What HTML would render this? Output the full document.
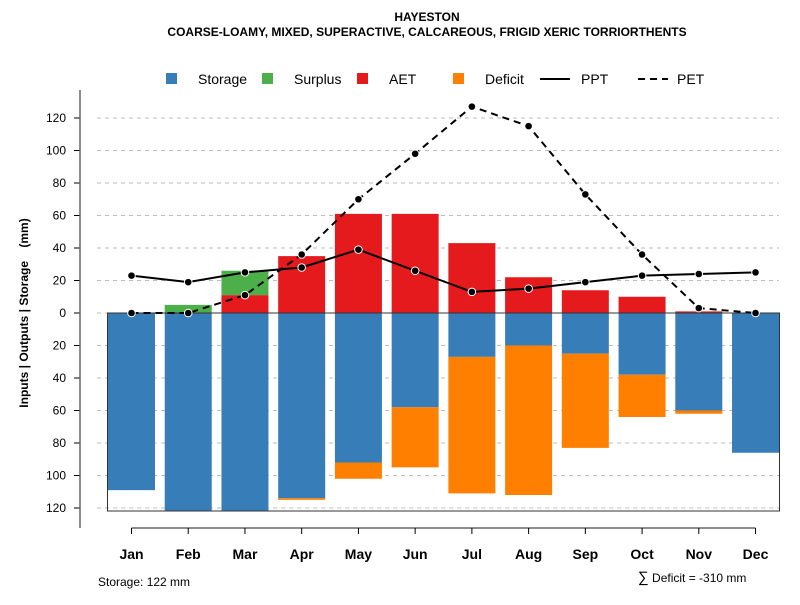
<!DOCTYPE html>
<html><head><meta charset="utf-8"><style>
body{margin:0;background:#fff;font-family:"Liberation Sans",sans-serif}
</style></head><body>
<svg width="800" height="600" xmlns="http://www.w3.org/2000/svg" font-family="Liberation Sans, sans-serif">
<text x="427" y="21" text-anchor="middle" font-size="12" font-weight="bold">HAYESTON</text>
<text x="427" y="36" text-anchor="middle" font-size="12" font-weight="bold">COARSE-LOAMY, MIXED, SUPERACTIVE, CALCAREOUS, FRIGID XERIC TORRIORTHENTS</text>
<g id="grid"></g>
<g id="bars"></g>
<rect x="107.5" y="313" width="672" height="198" fill="none" stroke="#333" stroke-width="1"/>
<g id="lines"></g>
<g id="axes"></g>
<g font-size="14">
<rect x="166" y="73" width="11" height="11" fill="#377EB8"/><text x="198" y="84">Storage</text>
<rect x="262" y="73" width="11" height="11" fill="#4DAF4A"/><text x="294" y="84">Surplus</text>
<rect x="357" y="73" width="11" height="11" fill="#E41A1C"/><text x="389" y="84">AET</text>
<rect x="453" y="73" width="11" height="11" fill="#FF7F00"/><text x="485" y="84">Deficit</text>
<line x1="540" y1="79" x2="570" y2="79" stroke="#000" stroke-width="2"/><text x="581" y="84">PPT</text>
<line x1="638" y1="79" x2="668" y2="79" stroke="#000" stroke-width="2" stroke-dasharray="7,5"/><text x="677" y="84">PET</text>
</g>
<text x="98" y="586" font-size="12">Storage: 122 mm</text>
<text x="638" y="582" font-size="12"><tspan font-size="15">∑</tspan> Deficit = -310 mm</text>
<text transform="translate(28,313) rotate(-90)" text-anchor="middle" font-size="12" font-weight="bold" style="white-space:pre">Inputs | Outputs | Storage    (mm)</text>
</svg>
<script>
const months=["Jan","Feb","Mar","Apr","May","Jun","Jul","Aug","Sep","Oct","Nov","Dec"];
const storage=[109,122,122,114,92,58,27,20,25,38,60,86];
const deficit=[0,0,0,1,10,37,84,92,58,26,2,0];
const aet=[0,0,11,35,61,61,43,22,14,10,1,0];
const surplus=[0,5,15,0,0,0,0,0,0,0,0,0];
const ppt=[23,19,25,28,39,26,13,15,19,23,24,25];
const pet=[0,0,11,36,70,98,127,115,73,36,3,0];
const yTicks=[0,20,40,60,80,100,120];
const NS="http://www.w3.org/2000/svg";
const y0=313,k=1.625;
const yUp=v=>y0-v*k, yDn=v=>y0+v*k;
const xc=i=>131.5+i*56.73, bw=47;
function mk(t,a,p){const e=document.createElementNS(NS,t);for(const n in a)e.setAttribute(n,a[n]);p.appendChild(e);return e;}
const grid=document.getElementById('grid'),bars=document.getElementById('bars'),lines=document.getElementById('lines'),axes=document.getElementById('axes');
yTicks.forEach(t=>{[yUp(t),yDn(t)].forEach((y,j)=>{if(t===0&&j===1)return;
const g=mk('line',{x1:97,x2:779,y1:y,y2:y,stroke:'#bbb','stroke-dasharray':'4,4'},grid);


const tk=mk('line',{x1:74,x2:80,y1:y,y2:y,stroke:'#000'},axes);


const tx=mk('text',{x:66,y:y+4,'text-anchor':'end','font-size':12},axes);tx.textContent=t;


});});
const ax=mk('line',{x1:80,x2:80,y1:90,y2:528,stroke:'#666','stroke-width':1.5},axes);


const bx=mk('line',{x1:xc(0),x2:xc(11),y1:528,y2:528,stroke:'#666','stroke-width':1.5},axes);


function bar(x,yA,yB,fill,name){const r=mk('rect',{x:x-bw/2,y:Math.min(yA,yB),width:bw,height:Math.abs(yB-yA),fill:fill},bars);

}
months.forEach((m,i)=>{const x=xc(i);
bar(x,yDn(0),yDn(storage[i]),'#377EB8','bar-storage-'+m.toLowerCase());
if(deficit[i])bar(x,yDn(storage[i]),yDn(storage[i]+deficit[i]),'#FF7F00','bar-deficit-'+m.toLowerCase());
if(aet[i])bar(x,yUp(0),yUp(aet[i]),'#E41A1C','bar-aet-'+m.toLowerCase());
if(surplus[i])bar(x,yUp(aet[i]),yUp(aet[i]+surplus[i]),'#4DAF4A','bar-surplus-'+m.toLowerCase());
const tk=mk('line',{x1:x,x2:x,y1:528,y2:534,stroke:'#000'},axes);


const tx=mk('text',{x:x,y:559,'text-anchor':'middle','font-size':14,'font-weight':'bold'},axes);tx.textContent=m;


});
const zl=mk('line',{x1:107.5,x2:779.5,y1:y0,y2:y0,stroke:'#333'},bars);


function series(vals,dash,name){
const p=mk('polyline',{points:vals.map((v,i)=>xc(i)+','+yUp(v)).join(' '),fill:'none',stroke:'#000','stroke-width':2,'stroke-dasharray':dash},lines);


vals.forEach((v,i)=>{const c=mk('circle',{cx:xc(i),cy:yUp(v),r:3.8,fill:'#000',stroke:'#fff','stroke-width':1},lines);

});}
series(ppt,'none','ppt');
series(pet,'7,5','pet');
</script>
</body></html>
